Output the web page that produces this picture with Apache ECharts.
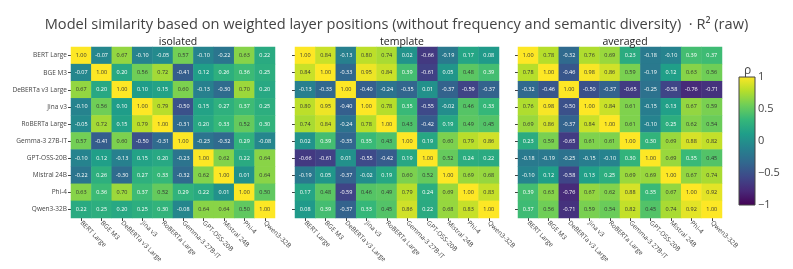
<!DOCTYPE html>
<html><head><meta charset="utf-8">
<script src="https://cdn.jsdelivr.net/npm/echarts@6/dist/echarts.min.js"></script>
<style>html,body{margin:0;padding:0;background:#fff}#c{width:793px;height:269px}</style>
</head><body><div id="c"></div>
<script>
const models = ['BERT Large','BGE M3','DeBERTa v3 Large','Jina v3','RoBERTa Large','Gemma-3 27B-IT','GPT-OSS-20B','Mistral 24B','Phi-4','Qwen3-32B'];
const panelTitles = ['isolated','template','averaged'];
const colorbarTicks = [-1,-0.5,0,0.5,1];

const isolated = [
  [1.00,-0.07,0.67,-0.10,-0.05,0.57,-0.10,-0.22,0.63,0.22],
  [-0.07,1.00,0.20,0.56,0.72,-0.41,0.12,0.26,0.36,0.25],
  [0.67,0.20,1.00,0.10,0.15,0.60,-0.13,-0.30,0.70,0.20],
  [-0.10,0.56,0.10,1.00,0.79,-0.50,0.15,0.27,0.37,0.25],
  [-0.05,0.72,0.15,0.79,1.00,-0.31,0.20,0.33,0.52,0.30],
  [0.57,-0.41,0.60,-0.50,-0.31,1.00,-0.23,-0.32,0.29,-0.08],
  [-0.10,0.12,-0.13,0.15,0.20,-0.23,1.00,0.62,0.22,0.64],
  [-0.22,0.26,-0.30,0.27,0.33,-0.32,0.62,1.00,0.01,0.64],
  [0.63,0.36,0.70,0.37,0.52,0.29,0.22,0.01,1.00,0.50],
  [0.22,0.25,0.20,0.25,0.30,-0.08,0.64,0.64,0.50,1.00]
];
const template = [
  [1.00,0.84,-0.13,0.80,0.74,0.02,-0.66,-0.19,0.17,0.08],
  [0.84,1.00,-0.33,0.95,0.84,0.39,-0.61,0.05,0.48,0.39],
  [-0.13,-0.33,1.00,-0.40,-0.24,-0.35,0.01,-0.37,-0.59,-0.37],
  [0.80,0.95,-0.40,1.00,0.78,0.35,-0.55,-0.02,0.46,0.33],
  [0.74,0.84,-0.24,0.78,1.00,0.43,-0.42,0.19,0.49,0.45],
  [0.02,0.39,-0.35,0.35,0.43,1.00,0.19,0.60,0.79,0.86],
  [-0.66,-0.61,0.01,-0.55,-0.42,0.19,1.00,0.52,0.24,0.22],
  [-0.19,0.05,-0.37,-0.02,0.19,0.60,0.52,1.00,0.69,0.68],
  [0.17,0.48,-0.59,0.46,0.49,0.79,0.24,0.69,1.00,0.83],
  [0.08,0.39,-0.37,0.33,0.45,0.86,0.22,0.68,0.83,1.00]
];
const averaged = [
  [1.00,0.78,-0.32,0.76,0.69,0.23,-0.18,-0.10,0.39,0.37],
  [0.78,1.00,-0.46,0.98,0.86,0.59,-0.19,0.12,0.63,0.56],
  [-0.32,-0.46,1.00,-0.50,-0.37,-0.65,-0.25,-0.58,-0.76,-0.71],
  [0.76,0.98,-0.50,1.00,0.84,0.61,-0.15,0.13,0.67,0.59],
  [0.69,0.86,-0.37,0.84,1.00,0.61,-0.10,0.25,0.62,0.54],
  [0.23,0.59,-0.65,0.61,0.61,1.00,0.30,0.69,0.88,0.82],
  [-0.18,-0.19,-0.25,-0.15,-0.10,0.30,1.00,0.69,0.35,0.45],
  [-0.10,0.12,-0.58,0.13,0.25,0.69,0.69,1.00,0.67,0.74],
  [0.39,0.63,-0.76,0.67,0.62,0.88,0.35,0.67,1.00,0.92],
  [0.37,0.56,-0.71,0.59,0.54,0.82,0.45,0.74,0.92,1.00]
];

const viridis = ['#440154','#482878','#3e4989','#31688e','#26828e','#1f9e89','#35b779','#6ece58','#b5de2b','#fde725'];
const matrices = [isolated, template, averaged];
const FONT = '"Open Sans", sans-serif';
const lefts = [71, 295, 518];
const GW = 204, GT = 47, GH = 171;

const grids = lefts.map(l => ({left:l, top:GT, width:GW, height:GH}));
grids.push({left:739, top:77, width:16, height:128, show:true, borderColor:'#444', borderWidth:1,
  backgroundColor: new echarts.graphic.LinearGradient(0,1,0,0, viridis.map((c,i)=>({offset:i/(viridis.length-1), color:c})))});

const xAxis = lefts.map((l,i) => ({
  type:'category', data:models, gridIndex:i, position:'bottom',
  axisLine:{show:false}, splitLine:{show:false},
  axisTick:{show:true, alignWithLabel:true, length:3, lineStyle:{color:'#444'}},
  axisLabel:{rotate:-45, fontSize:6.5, color:'#444', fontFamily:FONT, margin:4, interval:0}
}));
xAxis.push({type:'value', gridIndex:3, show:false, min:0, max:1});

const yAxis = lefts.map((l,i) => ({
  type:'category', data:models, gridIndex:i, inverse:true,
  axisLine:{show:false}, splitLine:{show:false},
  axisTick:{show:true, alignWithLabel:true, length:3, lineStyle:{color:'#444'}},
  axisLabel:{show:i===0, fontSize:6.5, color:'#444', fontFamily:FONT, margin:4, interval:0}
}));
yAxis.push({type:'value', gridIndex:3, position:'right', min:colorbarTicks[0], max:colorbarTicks[colorbarTicks.length-1], interval:0.5,
  axisLine:{show:false}, axisTick:{show:false}, splitLine:{show:false},
  axisLabel:{fontSize:11, color:'#444', fontFamily:FONT, margin:3, formatter:v=>String(v).replace('-','\u2212')}});

const series = matrices.map((m,i) => {
  const data = [];
  m.forEach((row,r) => row.forEach((v,c) => {
    data.push({value:[c,r,v], label:{color: v >= 0.4 ? '#333' : '#fff'}});
  }));
  return {
    type:'heatmap', xAxisIndex:i, yAxisIndex:i, data,
    label:{show:true, fontSize:5.5, fontFamily:FONT, formatter:p=>p.value[2].toFixed(2)},
    emphasis:{disabled:true}, itemStyle:{borderWidth:0}
  };
});
series.push({type:'scatter', xAxisIndex:3, yAxisIndex:3, data:[], silent:true});

const titles = [{text:'Model similarity based on weighted layer positions (without frequency and semantic diversity)  \u00b7 R\u00b2 (raw)',
  left:'center', top:12, textStyle:{fontSize:14.6, fontWeight:'normal', color:'#444', fontFamily:FONT}}];
panelTitles.forEach((t,i) => titles.push({text:t, left:lefts[i]+GW/2, textAlign:'center', top:32,
  textStyle:{fontSize:10.5, fontWeight:'normal', color:'#222', fontFamily:FONT}}));
titles.push({text:'\u03c1', left:739, top:60, textStyle:{fontSize:12, fontWeight:'normal', color:'#444', fontFamily:FONT}});

const chart = echarts.init(document.getElementById('c'), null, {renderer:'canvas'});
chart.setOption({
  backgroundColor:'#fff',
  animation:false,
  title:titles,
  grid:grids, xAxis, yAxis, series,
  visualMap:{show:false, min:-1, max:1, seriesIndex:[0,1,2], dimension:2, inRange:{color:viridis}}
});
</script>
</body></html>
